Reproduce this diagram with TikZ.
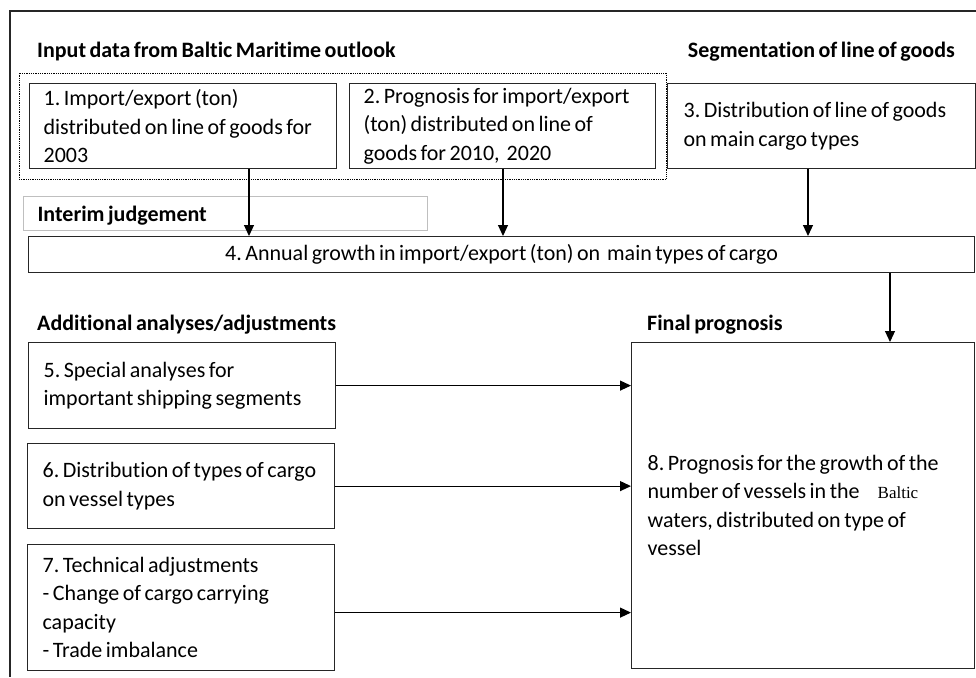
\documentclass[tikz,border=0pt]{standalone}
\usepackage{fontspec}
\setmainfont{Carlito}[WordSpace=0.7, Ligatures=NoCommon]
\newfontfamily\timesfont{Liberation Serif}
\usetikzlibrary{positioning,arrows.meta,fit}
\definecolor{boxgray}{HTML}{262626}
\definecolor{framegray}{HTML}{BFBFBF}
\newcommand{\bodyfont}{\fontsize{22}{28.5}\selectfont}
\frenchspacing

\tikzset{
  stepbox/.style={draw=boxgray, line width=1.2pt, anchor=north west, align=left,
    inner xsep=14pt, inner ysep=0pt, font=\bodyfont,
    execute at begin node={\spaceskip=0pt\xspaceskip=0pt}},
  headlbl/.style={font=\bodyfont\bfseries, inner sep=0pt, anchor=west},
  arr/.style={line width=1.1pt, -{Triangle[width=10pt,length=11pt]}},
}

\begin{document}
\begin{tikzpicture}[x=1pt, y=-1pt]
    \useasboundingbox (0,0) rectangle (976,677);
    % outer frame (only top and left edge visible)
    \draw[boxgray, line width=1.4pt] (976,11) -- (10,11) -- (10,677);

    % headings
    \node[headlbl] (hin) at (37,52) {Input data from Baltic Maritime outlook};
    \node[headlbl, anchor=east] (hseg) at (955,52) {Segmentation of line of goods};
    \node[headlbl] (hadd) at (37,325) {Additional analyses/adjustments};
    \node[headlbl] (hfin) at (647,325) {Final prognosis};

    % input boxes
    \node[stepbox, text width=279pt, minimum height=85pt] (b1) at (29,83)
      {1. Import/export (ton)\\distributed on line of goods for\\2003};
    \node[stepbox, text width=278pt, minimum height=85pt] (b2) at (349,83)
      {2. Prognosis for import/export\\(ton) distributed on line of\\goods for 2010,\ \ 2020};
    \node[stepbox, inner xsep=16pt, text width=276pt, minimum height=85pt] (b3) at (667,83)
      {3. Distribution of line of goods\\on main cargo types};
    \node[draw, densely dotted, line width=0.8pt, inner sep=10pt, fit=(b1)(b2)] (inp) {};

    % interim judgement
    \node[stepbox, draw=framegray, font=\bodyfont\bfseries, text depth=0pt, text width=376pt, minimum height=34pt] (int) at (23,196)
      {Interim judgement};
    \node[stepbox, align=center, inner xsep=0pt, minimum width=946pt, minimum height=36pt] (b4) at (28,236)
      {4. Annual growth in import/export (ton) on\ \ main types of cargo};

    % adjustments
    \node[stepbox, inner xsep=15pt, text width=277pt, minimum height=86pt] (b5) at (28,342)
      {5. Special analyses for\\important shipping segments};
    \node[stepbox, inner xsep=15pt, text width=277pt, minimum height=85pt] (b6) at (27,443)
      {6. Distribution of types of cargo\\on vessel types};
    \node[stepbox, inner xsep=15pt, text width=277pt, minimum height=126pt] (b7) at (27,544)
      {7. Technical adjustments\\- Change of cargo carrying\\capacity\\- Trade imbalance};

    % final prognosis
    \node[stepbox, inner xsep=16pt, text width=311pt, minimum height=326pt] (b8) at (631,342)
      {8. Prognosis for the growth of the\\number of vessels in the\hspace{18pt}{\timesfont\fontsize{17}{28.5}\selectfont Baltic}\\waters, distributed on type of\\vessel};

    % connectors
    \coordinate (c1) at (249,0);
    \coordinate (c2) at (503,0);
    \coordinate (c3) at (808,0);
    \coordinate (c4) at (890,0);
    \draw[arr] (b1.south -| c1) -- (b4.north -| c1);
    \draw[arr] (b2.south -| c2) -- (b4.north -| c2);
    \draw[arr] (b3.south -| c3) -- (b4.north -| c3);
    \draw[arr] (b4.south -| c4) -- (b8.north -| c4);
    \draw[arr] (b5.east) -- (b5.east -| b8.west);
    \draw[arr] (b6.east) -- (b6.east -| b8.west);
    \draw[arr] ([yshift=-5pt]b7.east) -- ([yshift=-5pt]b7.east -| b8.west);
  \end{tikzpicture}
\end{document}
